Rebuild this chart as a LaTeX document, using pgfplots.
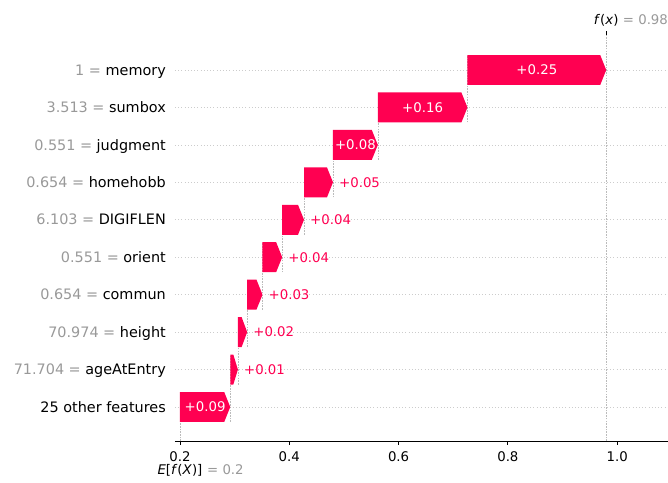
\documentclass[border=0pt]{standalone}
\usepackage{pgfplots}
\usepackage{pgfplotstable}
\pgfplotsset{compat=1.18}
\usepackage{fontspec}
\setmainfont{DejaVu Sans}

\definecolor{shapred}{RGB}{255,0,81}
\definecolor{valgray}{HTML}{999999}
\definecolor{gridgray}{HTML}{CCCCCC}
\definecolor{linegray}{HTML}{BBBBBB}

\newcommand\labfont{\fontsize{14.4bp}{17bp}\selectfont}
\newcommand\tickfont{\fontsize{13.3bp}{16bp}\selectfont}

% row, left end of the arrow, SHAP contribution, feature value, feature name
\pgfplotstableread[col sep=comma]{
row,start,delta,val,name
9,0.726,0.254,1,memory
8,0.562,0.164,3.513,sumbox
7,0.480,0.082,0.551,judgment
6,0.427,0.053,0.654,homehobb
5,0.387,0.040,6.103,DIGIFLEN
4,0.351,0.036,0.551,orient
3,0.323,0.028,0.654,commun
2,0.306,0.017,70.974,height
1,0.292,0.014,71.704,ageAtEntry
0,0.200,0.092,,25 other features
}\shapdata

\begin{document}
\begin{tikzpicture}
\useasboundingbox (-175bp,-42bp) rectangle (493bp,441bp);
\begin{axis}[
  at={(0,0)}, anchor=south west,
  scale only axis, width=493bp, height=406bp,
  xmin=0.1909, xmax=1.093, ymin=-0.908, ymax=9.935,
  clip=false,
  axis line style={draw=none},
  /pgf/number format/assume math mode=true,
  xtick={0.2,0.4,0.6,0.8,1.0},
  xticklabel style={font=\tickfont, anchor=base, yshift=-17bp,
    /pgf/number format/fixed, /pgf/number format/fixed zerofill,
    /pgf/number format/precision=1},
  xtick pos=left, tick align=outside,
  major tick length=3.9bp,
  xtick style={black, line width=0.9bp},
  ytick={0,...,9}, yticklabels={}, ytick style={draw=none},
  ymajorgrids,
  y grid style={gridgray, line width=0.6bp, dash pattern=on 0.6bp off 2.6bp},
]
% bottom spine
\draw[black, line width=0.9bp] (rel axis cs:0,0) -- (rel axis cs:1,0);

% model output and expected value
\addplot[linegray, line width=0.6bp, dash pattern=on 1.6bp off 1.1bp, forget plot]
  coordinates {(0.98,-0.908) (0.98,9.935)};
\addplot[linegray, line width=0.6bp, dash pattern=on 1.6bp off 1.1bp, forget plot]
  coordinates {(0.2,-0.908) (0.2,0.176)};
\draw[black, line width=0.9bp] (axis cs:0.98,9.935) -- ([yshift=3.9bp]axis cs:0.98,9.935);

\pgfplotsforeachungrouped \i in {0,...,9}{%
  \pgfplotstablegetelem{\i}{row}\of\shapdata \edef\bRow{\pgfplotsretval}%
  \pgfplotstablegetelem{\i}{start}\of\shapdata \edef\bStart{\pgfplotsretval}%
  \pgfplotstablegetelem{\i}{delta}\of\shapdata \edef\bDelta{\pgfplotsretval}%
  \pgfplotstablegetelem{\i}{val}\of\shapdata \edef\bVal{\pgfplotsretval}%
  \pgfplotstablegetelem{\i}{name}\of\shapdata \edef\bName{\pgfplotsretval}%
  \pgfmathsetmacro\bEnd{\bStart+\bDelta}%
  \pgfmathsetmacro\bHead{min(0.011,0.6*\bDelta)}%
  \pgfmathsetmacro\bNeck{\bEnd-\bHead}%
  \pgfmathsetmacro\bLo{\bRow-0.4}%
  \pgfmathsetmacro\bHi{\bRow+0.4}%
  \pgfmathsetmacro\bCLo{max(\bRow-1.4,-0.908)}%
  \pgfmathsetmacro\bMid{\bStart+0.5*\bDelta}%
  % connector and arrow
  \edef\tmp{%
    \noexpand\addplot[linegray, line width=0.6bp, dash pattern=on 1.6bp off 1.1bp, forget plot]
      coordinates {(\bStart,\bCLo) (\bStart,\bHi)};
    \noexpand\addplot[draw=none, fill=shapred, forget plot]
      coordinates {(\bStart,\bLo) (\bNeck,\bLo) (\bEnd,\bRow) (\bNeck,\bHi) (\bStart,\bHi)} -- cycle;
  }\tmp
  % value label
  \ifdim\bDelta pt>0.07pt
    \edef\tmp{\noexpand\node[text=white, font=\noexpand\tickfont, anchor=base,
      yshift=-4.8bp, inner sep=0pt] at (axis cs:\bMid,\bRow)
      {\noexpand\pgfmathprintnumber[fixed,fixed zerofill,precision=2,showpos]{\bDelta}};}%
  \else
    \edef\tmp{\noexpand\node[text=shapred, font=\noexpand\tickfont, anchor=base west,
      xshift=6bp, yshift=-4.8bp, inner sep=0pt] at (axis cs:\bEnd,\bRow)
      {\noexpand\pgfmathprintnumber[fixed,fixed zerofill,precision=2,showpos]{\bDelta}};}%
  \fi
  \tmp
  % feature label
  \ifnum\bRow=0
    \edef\tmp{\noexpand\node[font=\noexpand\labfont, anchor=base east, xshift=-9bp,
      yshift=-5.2bp, inner sep=0pt] at (axis cs:0.1909,\bRow) {\bName};}%
  \else
    \edef\tmp{\noexpand\node[font=\noexpand\labfont, anchor=base east, xshift=-9bp,
      yshift=-5.2bp, inner sep=0pt] at (axis cs:0.1909,\bRow)
      {\noexpand\textcolor{valgray}{\bVal{} =} \bName};}%
  \fi
  \tmp
}

% f(x) and E[f(X)] annotations
\node[font=\tickfont, anchor=base, inner sep=0pt, yshift=10bp]
  at (axis cs:0.98,9.935) {\textit{f}(\textit{x})};
\node[font=\tickfont, text=valgray, anchor=base west, inner sep=0pt, xshift=16.5bp, yshift=10bp]
  at (axis cs:0.98,9.935) {= 0.98};
\node[font=\tickfont, anchor=base, inner sep=0pt, yshift=-33bp]
  at (axis cs:0.2,-0.908) {\textit{E}[\textit{f}(\textit{X})]};
\node[font=\tickfont, text=valgray, anchor=base west, inner sep=0pt, xshift=27bp, yshift=-33bp]
  at (axis cs:0.2,-0.908) {= 0.2};
\end{axis}
\end{tikzpicture}
\end{document}
